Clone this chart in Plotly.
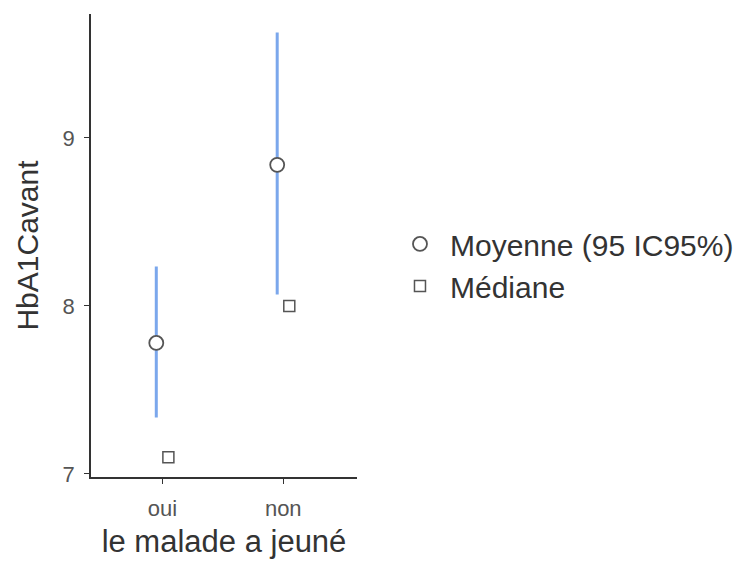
import plotly.graph_objects as go

categories = ["oui", "non"]
means = [7.78, 8.84]
ci_low = [7.345, 8.077]
ci_high = [8.226, 9.619]
medians = [7.10, 8.00]

xpos = list(range(len(categories)))
off = 0.05

fig = go.Figure()
fig.add_trace(go.Scatter(
    x=[p - off for p in xpos], y=means, mode="markers",
    name="Moyenne (95 IC95%)",
    error_y=dict(type="data", symmetric=False,
                 array=[h - m for h, m in zip(ci_high, means)],
                 arrayminus=[m - l for m, l in zip(means, ci_low)],
                 color="#7ba7ec", thickness=3, width=1.5),
    marker=dict(symbol="circle", size=14, color="white",
                line=dict(color="#555555", width=1.8)),
))
fig.add_trace(go.Scatter(
    x=[p + off for p in xpos], y=medians, mode="markers",
    name="Médiane",
    marker=dict(symbol="square", size=11, color="white",
                line=dict(color="#555555", width=1.5)),
))

fig.update_layout(
    width=727, height=551,
    margin=dict(l=83, r=378, t=6, b=82, autoexpand=False),
    paper_bgcolor="white", plot_bgcolor="white",
    font=dict(family="Liberation Sans, Arial, sans-serif", color="#333333"),
    showlegend=True,
    legend=dict(x=1.124, y=0.458, xanchor="left", yanchor="middle",
                font=dict(size=30, color="#333333"),
                itemwidth=50, tracegroupgap=0),
    xaxis=dict(range=[-0.59, 1.61], tickvals=xpos, ticktext=categories,
               showgrid=False, zeroline=False, showline=True,
               linecolor="#333333", linewidth=1.5,
               ticks="outside", ticklen=5, tickcolor="#333333",
               tickfont=dict(size=22, color="#555555"), ticklabelstandoff=6,
               automargin=True,
               title=dict(text="le malade a jeuné", font=dict(size=31, color="#333333"),
                          standoff=18)),
    yaxis=dict(range=[6.982, 9.738], tickvals=[7, 8, 9],
               showgrid=False, zeroline=False, showline=True,
               linecolor="#333333", linewidth=1.5,
               ticks="outside", ticklen=5, tickcolor="#333333",
               tickfont=dict(size=22, color="#555555"), ticklabelstandoff=5,
               automargin=True,
               title=dict(text="HbA1Cavant", font=dict(size=30, color="#333333"),
                          standoff=15)),
)

fig.write_html("out.html")
